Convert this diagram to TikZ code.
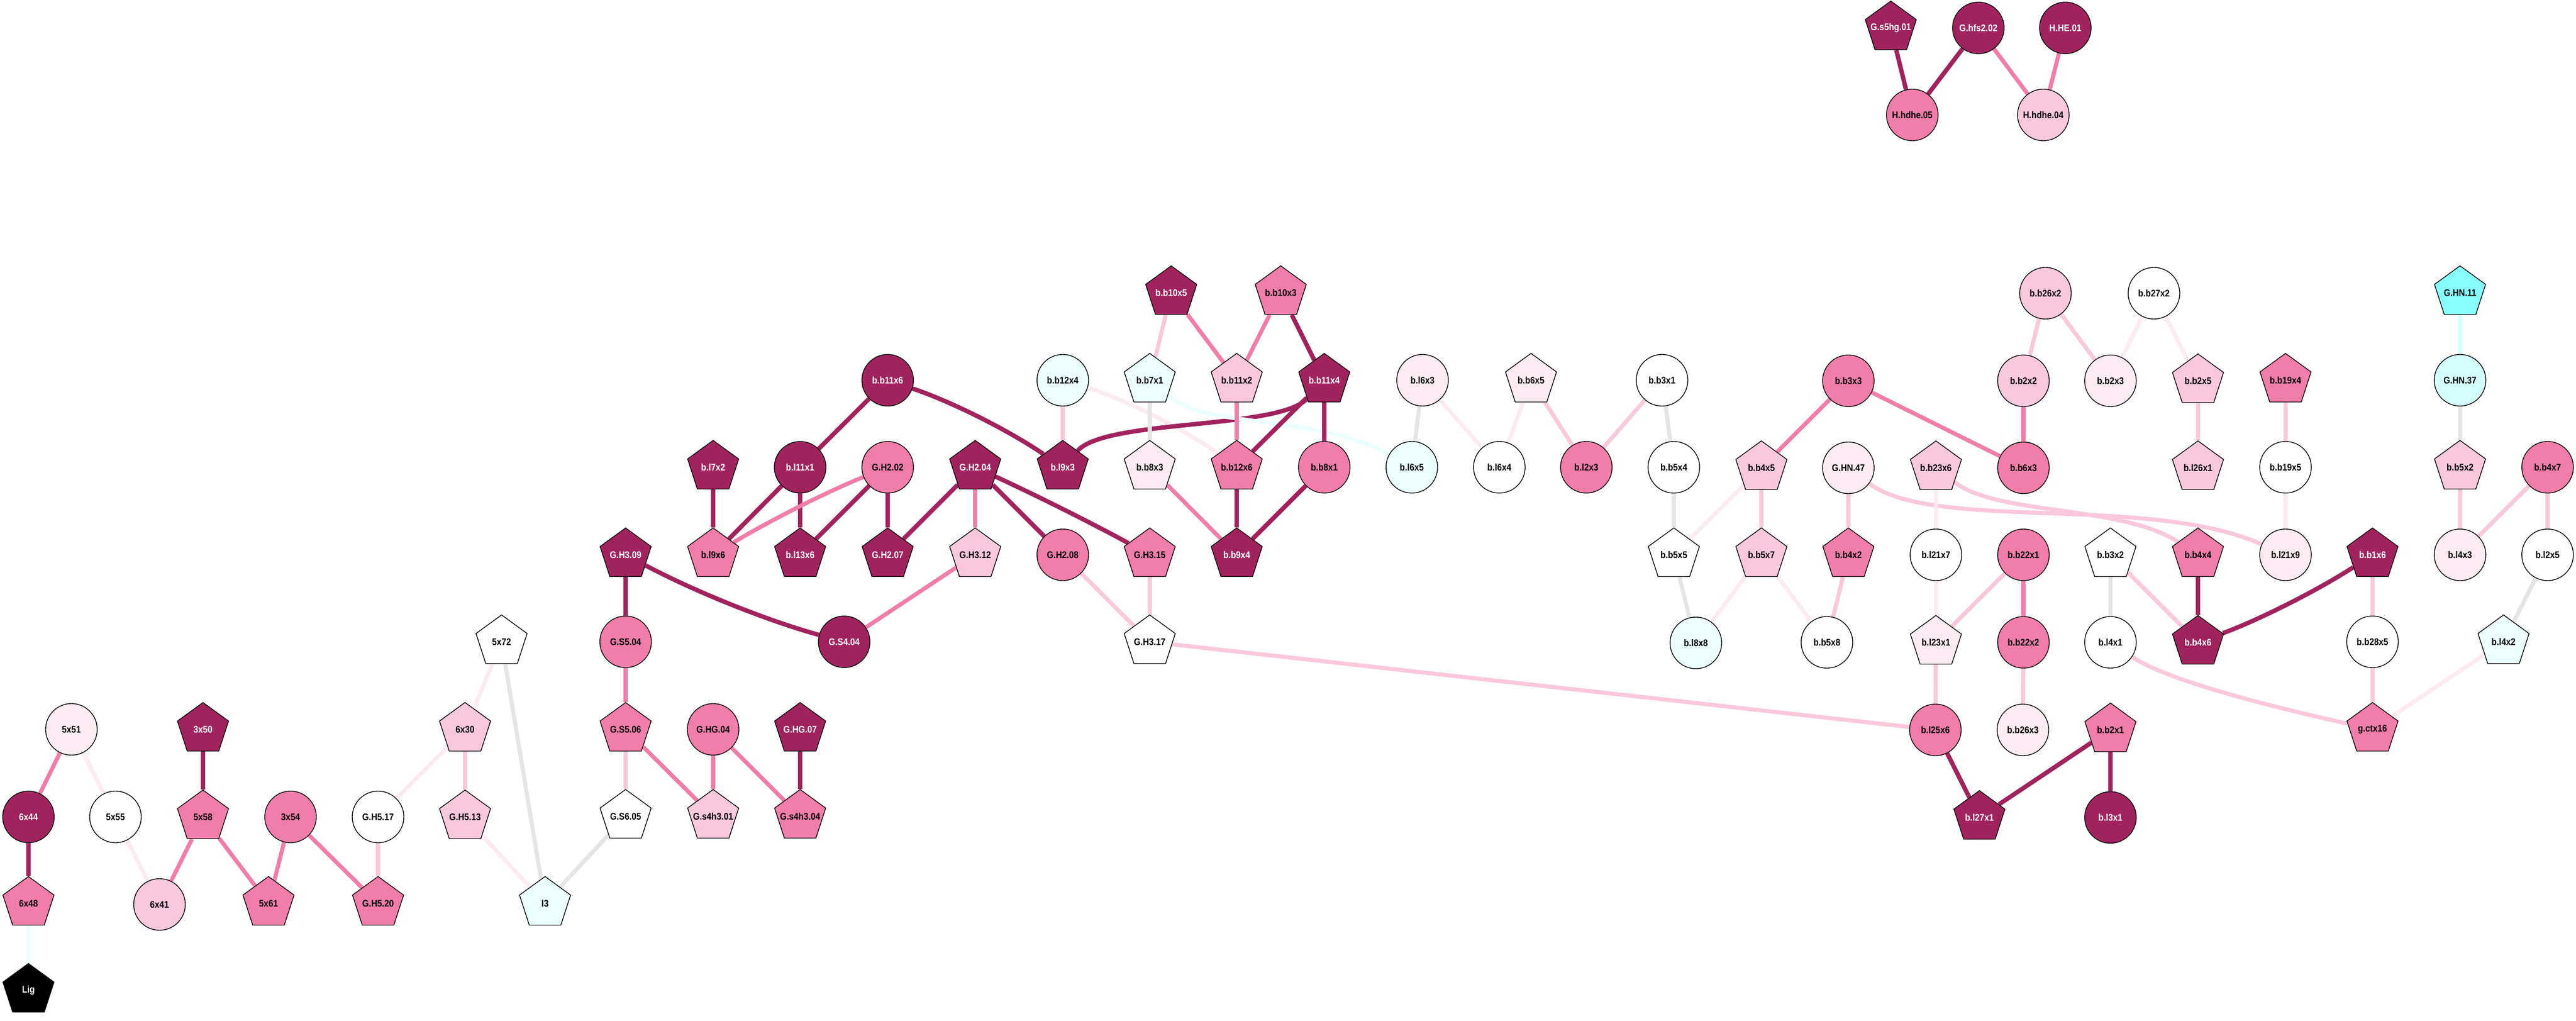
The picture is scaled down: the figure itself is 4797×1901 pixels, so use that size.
\documentclass[tikz,border=0pt]{standalone}
\usepackage{fontspec}
\newfontfamily\lbl{Liberation Sans}[FakeStretch=0.88]
\usetikzlibrary{shapes.geometric}
\pgfdeclarelayer{edges}
\pgfsetlayers{edges,main}
\definecolor{cdk}{RGB}{161,35,94}
\definecolor{cmd}{RGB}{240,125,170}
\definecolor{clt}{RGB}{249,200,220}
\definecolor{cvl}{RGB}{252,235,242}
\definecolor{ccy}{RGB}{235,255,255}
\definecolor{ccm}{RGB}{212,255,255}
\definecolor{ccb}{RGB}{136,255,255}
\definecolor{cgr}{RGB}{229,229,229}
\begin{document}
\begin{tikzpicture}[x=0.01cm,y=-0.01cm,
  circ/.style={circle,draw,line width=0.4pt,minimum size=0.96cm,inner sep=0pt,font={\lbl\bfseries\fontsize{5.1}{6}\selectfont}},
  pent/.style={regular polygon,regular polygon sides=5,draw,line width=0.4pt,minimum size=1cm,inner sep=-6pt,font={\lbl\bfseries\fontsize{5.1}{6}\selectfont}},
  dk/.style={fill=cdk,text=white},
  md/.style={fill=cmd},
  lt/.style={fill=clt},
  vl/.style={fill=cvl},
  wh/.style={fill=white},
  cy/.style={fill=ccy},
  edk/.style={draw=cdk,line width=0.082cm},
  emd/.style={draw=cmd,line width=0.076cm},
  elt/.style={draw=clt,line width=0.076cm},
  evl/.style={draw=cvl,line width=0.076cm},
  egr/.style={draw=cgr,line width=0.076cm},
  ecy/.style={draw=ccy,line width=0.076cm},
  ecm/.style={draw=ccm,line width=0.076cm}]
\useasboundingbox (0,0) rectangle (4797,1901);

% top group
\node[pent,dk] (Gs5hg01) at (3521,52) {G.s5hg.01};
\node[circ,dk] (Ghfs202) at (3684,52) {G.hfs2.02};
\node[circ,dk] (HHE01) at (3846,52) {H.HE.01};
\node[circ,md] (Hhdhe05) at (3561,214) {H.hdhe.05};
\node[circ,lt] (Hhdhe04) at (3805,214) {H.hdhe.04};

% bottom left
\node[circ,vl] (n5x51) at (133,1358) {5x51};
\node[circ,dk] (n6x44) at (53,1521) {6x44};
\node[circ,wh] (n5x55) at (215,1521) {5x55};
\node[pent,md] (n6x48) at (53,1682) {6x48};
\node[circ,lt] (n6x41) at (297,1684) {6x41};
\node[pent,fill=black,text=white] (Lig) at (53,1844) {Lig};
\node[pent,dk] (n3x50) at (378,1358) {3x50};
\node[pent,md] (n5x58) at (378,1521) {5x58};
\node[pent,md] (n5x61) at (500,1682) {5x61};
\node[circ,md] (n3x54) at (541,1521) {3x54};
\node[circ,wh] (GH517) at (704,1521) {G.H5.17};
\node[pent,md] (GH520) at (704,1682) {G.H5.20};
\node[pent,lt] (n6x30) at (866,1358) {6x30};
\node[pent,lt] (GH513) at (866,1521) {G.H5.13};
\node[pent,wh] (n5x72) at (934,1195) {5x72};
\node[pent,cy] (I3) at (1015,1682) {I3};

% middle
\node[circ,dk] (bb11x6) at (1653,708) {b.b11x6};
\node[circ,cy] (bb12x4) at (1979,708) {b.b12x4};
\node[pent,dk] (bl7x2) at (1328,870) {b.l7x2};
\node[circ,dk] (bl11x1) at (1490,870) {b.l11x1};
\node[circ,md] (GH202) at (1653,870) {G.H2.02};
\node[pent,dk] (GH204) at (1816,870) {G.H2.04};
\node[pent,dk] (bl9x3) at (1979,870) {b.l9x3};
\node[pent,dk] (GH309) at (1165,1033) {G.H3.09};
\node[pent,md] (bl9x6) at (1328,1033) {b.l9x6};
\node[pent,dk] (bl13x6) at (1490,1033) {b.l13x6};
\node[pent,dk] (GH207) at (1653,1033) {G.H2.07};
\node[pent,lt] (GH312) at (1816,1033) {G.H3.12};
\node[circ,md] (GH208) at (1979,1033) {G.H2.08};
\node[pent,md] (GH315) at (2141,1033) {G.H3.15};
\node[circ,md] (GS504) at (1165,1195) {G.S5.04};
\node[circ,dk] (GS404) at (1572,1195) {G.S4.04};
\node[pent,wh] (GH317) at (2141,1195) {G.H3.17};
\node[pent,md] (GS506) at (1165,1358) {G.S5.06};
\node[circ,md] (GHG04) at (1328,1358) {G.HG.04};
\node[pent,dk] (GHG07) at (1490,1358) {G.HG.07};
\node[pent,wh] (GS605) at (1165,1520) {G.S6.05};
\node[pent,lt] (Gs4h301) at (1328,1520) {G.s4h3.01};
\node[pent,md] (Gs4h304) at (1490,1520) {G.s4h3.04};

\node[pent,dk] (bb10x5) at (2181,545) {b.b10x5};
\node[pent,md] (bb10x3) at (2385,545) {b.b10x3};
\node[pent,cy] (bb7x1) at (2141,708) {b.b7x1};
\node[pent,lt] (bb11x2) at (2303,708) {b.b11x2};
\node[pent,dk] (bb11x4) at (2466,708) {b.b11x4};
\node[pent,vl] (bb8x3) at (2141,870) {b.b8x3};
\node[pent,md] (bb12x6) at (2303,870) {b.b12x6};
\node[circ,md] (bb8x1) at (2466,870) {b.b8x1};
\node[pent,dk] (bb9x4) at (2303,1033) {b.b9x4};
\node[circ,vl] (bl6x3) at (2649,708) {b.l6x3};
\node[pent,vl] (bb6x5) at (2851,708) {b.b6x5};
\node[circ,wh] (bb3x1) at (3095,708) {b.b3x1};
\node[circ,cy] (bl6x5) at (2629,870) {b.l6x5};
\node[circ,wh] (bl6x4) at (2792,870) {b.l6x4};
\node[circ,md] (bl2x3) at (2954,870) {b.l2x3};
\node[circ,wh] (bb5x4) at (3117,870) {b.b5x4};
\node[pent,wh] (bb5x5) at (3117,1033) {b.b5x5};
\node[circ,cy] (bl8x8) at (3158,1197) {b.l8x8};

% right
\node[circ,lt] (bb26x2) at (3809,546) {b.b26x2};
\node[circ,wh] (bb27x2) at (4011,546) {b.b27x2};
\node[circ,md] (bb3x3) at (3442,709) {b.b3x3};
\node[circ,lt] (bb2x2) at (3768,709) {b.b2x2};
\node[circ,vl] (bb2x3) at (3930,709) {b.b2x3};
\node[pent,lt] (bb2x5) at (4093,709) {b.b2x5};
\node[pent,md] (bb19x4) at (4256,708) {b.b19x4};
\node[pent,fill=ccb] (GHN11) at (4581,545) {G.HN.11};
\node[circ,fill=ccm] (GHN37) at (4581,708) {G.HN.37};
\node[pent,lt] (bb4x5) at (3280,871) {b.b4x5};
\node[circ,vl] (GHN47) at (3442,871) {G.HN.47};
\node[pent,lt] (bb23x6) at (3605,871) {b.b23x6};
\node[circ,md] (bb6x3) at (3768,871) {b.b6x3};
\node[pent,lt] (bl26x1) at (4093,871) {b.l26x1};
\node[circ,wh] (bb19x5) at (4256,870) {b.b19x5};
\node[pent,lt] (bb5x2) at (4581,870) {b.b5x2};
\node[circ,md] (bb4x7) at (4744,870) {b.b4x7};
\node[pent,lt] (bb5x7) at (3280,1033) {b.b5x7};
\node[pent,md] (bb4x2) at (3442,1033) {b.b4x2};
\node[circ,wh] (bl21x7) at (3605,1033) {b.l21x7};
\node[circ,md] (bb22x1) at (3768,1033) {b.b22x1};
\node[pent,wh] (bb3x2) at (3930,1033) {b.b3x2};
\node[pent,md] (bb4x4) at (4093,1033) {b.b4x4};
\node[circ,vl] (bl21x9) at (4256,1033) {b.l21x9};
\node[pent,dk] (bb1x6) at (4418,1033) {b.b1x6};
\node[circ,vl] (bl4x3) at (4581,1033) {b.l4x3};
\node[circ,wh] (bl2x5) at (4744,1033) {b.l2x5};
\node[circ,wh] (bb5x8) at (3402,1196) {b.b5x8};
\node[pent,vl] (bl23x1) at (3605,1196) {b.l23x1};
\node[circ,md] (bb22x2) at (3768,1196) {b.b22x2};
\node[circ,wh] (bl4x1) at (3930,1196) {b.l4x1};
\node[pent,dk] (bb4x6) at (4093,1196) {b.b4x6};
\node[circ,wh] (bb28x5) at (4418,1195) {b.b28x5};
\node[pent,cy] (bl4x2) at (4662,1195) {b.l4x2};
\node[circ,md] (bl25x6) at (3604,1359) {b.l25x6};
\node[circ,vl] (bb26x3) at (3767,1359) {b.b26x3};
\node[pent,md] (bb2x1) at (3930,1359) {b.b2x1};
\node[pent,md] (gctx16) at (4418,1358) {g.ctx16};
\node[pent,dk] (bl27x1) at (3686,1522) {b.l27x1};
\node[circ,dk] (bl3x1) at (3930,1522) {b.l3x1};

\begin{pgfonlayer}{edges}
% top group
\draw[edk] (Gs5hg01) -- (Hhdhe05);
\draw[edk] (Ghfs202) -- (Hhdhe05);
\draw[emd] (Ghfs202) -- (Hhdhe04);
\draw[emd] (HHE01) -- (Hhdhe04);
% bottom left
\draw[emd] (n5x51) -- (n6x44);
\draw[evl] (n5x51) -- (n5x55);
\draw[edk] (n6x44) -- (n6x48);
\draw[ecy] (n6x48) -- (Lig);
\draw[evl] (n5x55) -- (n6x41);
\draw[edk] (n3x50) -- (n5x58);
\draw[emd] (n5x58) -- (n6x41);
\draw[emd] (n5x58) -- (n5x61);
\draw[emd] (n3x54) -- (n5x61);
\draw[emd] (n3x54) -- (GH520);
\draw[elt] (GH517) -- (GH520);
\draw[evl] (GH517) -- (n6x30);
\draw[elt] (n6x30) -- (GH513);
\draw[evl] (n6x30) -- (n5x72);
\draw[evl] (GH513) -- (I3);
\draw[egr] (n5x72) -- (I3);
\draw[egr] (GS605) -- (I3);
% middle
\draw[edk] (bb11x6) -- (bl11x1);
\draw[edk] (bb11x6) .. controls (1770,747) and (1878,801) .. (bl9x3);
\draw[elt] (bb12x4) -- (bl9x3);
\draw[evl] (bb12x4) .. controls (2096,744) and (2204,798) .. (bb12x6);
\draw[edk] (bl7x2) -- (bl9x6);
\draw[edk] (bl11x1) -- (bl9x6);
\draw[edk] (bl11x1) -- (bl13x6);
\draw[emd] (GH202) .. controls (1541,915) and (1432,970) .. (bl9x6);
\draw[edk] (GH202) -- (bl13x6);
\draw[edk] (GH202) -- (GH207);
\draw[edk] (GH204) -- (GH207);
\draw[emd] (GH204) -- (GH312);
\draw[edk] (GH204) -- (GH208);
\draw[edk] (GH204) .. controls (1927,921) and (2035,975) .. (GH315);
\draw[edk] (GH309) -- (GS504);
\draw[edk] (GH309) .. controls (1295,1102) and (1430,1156) .. (GS404);
\draw[emd] (GH312) -- (GS404);
\draw[elt] (GH208) -- (GH317);
\draw[elt] (GH315) -- (GH317);
\draw[elt] (GH317) -- (bl25x6);
\draw[emd] (GS504) -- (GS506);
\draw[elt] (GS506) -- (GS605);
\draw[emd] (GS506) -- (Gs4h301);
\draw[emd] (GHG04) -- (Gs4h301);
\draw[emd] (GHG04) -- (Gs4h304);
\draw[edk] (GHG07) -- (Gs4h304);
\draw[edk] (bl9x3) .. controls (2060,780) and (2380,800) .. (bb11x4);
\draw[elt] (bb10x5) -- (bb7x1);
\draw[emd] (bb10x5) -- (bb11x2);
\draw[emd] (bb10x3) -- (bb11x2);
\draw[edk] (bb10x3) -- (bb11x4);
\draw[egr] (bb7x1) -- (bb8x3);
\draw[ecy] (bb7x1) .. controls (2250,800) and (2450,770) .. (bl6x5);
\draw[emd] (bb11x2) -- (bb12x6);
\draw[edk] (bb11x4) -- (bb12x6);
\draw[edk] (bb11x4) -- (bb8x1);
\draw[emd] (bb8x3) -- (bb9x4);
\draw[edk] (bb12x6) -- (bb9x4);
\draw[edk] (bb8x1) -- (bb9x4);
\draw[egr] (bl6x3) -- (bl6x5);
\draw[evl] (bl6x3) -- (bl6x4);
\draw[evl] (bb6x5) -- (bl6x4);
\draw[elt] (bb6x5) -- (bl2x3);
\draw[elt] (bb3x1) -- (bl2x3);
\draw[egr] (bb3x1) -- (bb5x4);
\draw[egr] (bb5x4) -- (bb5x5);
\draw[egr] (bb5x5) -- (bl8x8);
\draw[evl] (bb5x7) -- (bl8x8);
\draw[evl] (bb4x5) -- (bb5x5);
% right
\draw[emd] (bb3x3) -- (bb4x5);
\draw[emd] (bb3x3) -- (bb6x3);
\draw[elt] (bb26x2) -- (bb2x2);
\draw[elt] (bb26x2) -- (bb2x3);
\draw[evl] (bb27x2) -- (bb2x3);
\draw[evl] (bb27x2) -- (bb2x5);
\draw[emd] (bb2x2) -- (bb6x3);
\draw[elt] (bb2x5) -- (bl26x1);
\draw[elt] (bb19x4) -- (bb19x5);
\draw[evl] (bb19x5) -- (bl21x9);
\draw[ecm] (GHN11) -- (GHN37);
\draw[egr] (GHN37) -- (bb5x2);
\draw[elt] (bb5x2) -- (bl4x3);
\draw[elt] (bb4x7) -- (bl4x3);
\draw[elt] (bb4x7) -- (bl2x5);
\draw[egr] (bl2x5) -- (bl4x2);
\draw[evl] (bl4x2) -- (gctx16);
\draw[elt] (bb4x5) -- (bb5x7);
\draw[elt] (GHN47) -- (bb4x2);
\draw[elt] (GHN47) .. controls (3600,990) and (4000,920) .. (bl21x9);
\draw[elt] (bb23x6) .. controls (3720,960) and (3950,940) .. (bb4x4);
\draw[evl] (bb23x6) -- (bl21x7);
\draw[elt] (bb4x2) -- (bb5x8);
\draw[evl] (bb5x7) -- (bb5x8);
\draw[evl] (bl21x7) -- (bl23x1);
\draw[elt] (bb22x1) -- (bl23x1);
\draw[emd] (bb22x1) -- (bb22x2);
\draw[egr] (bb3x2) -- (bl4x1);
\draw[elt] (bb3x2) -- (bb4x6);
\draw[edk] (bb4x4) -- (bb4x6);
\draw[edk] (bb4x6) .. controls (4207,1154) and (4316,1099) .. (bb1x6);
\draw[elt] (bb1x6) -- (bb28x5);
\draw[elt] (bb28x5) -- (gctx16);
\draw[elt] (bl4x1) .. controls (4040,1270) and (4250,1320) .. (gctx16);
\draw[elt] (bl23x1) -- (bl25x6);
\draw[elt] (bb22x2) -- (bb26x3);
\draw[edk] (bl25x6) -- (bl27x1);
\draw[edk] (bb2x1) -- (bl27x1);
\draw[edk] (bb2x1) -- (bl3x1);
\end{pgfonlayer}
\end{tikzpicture}
\end{document}
